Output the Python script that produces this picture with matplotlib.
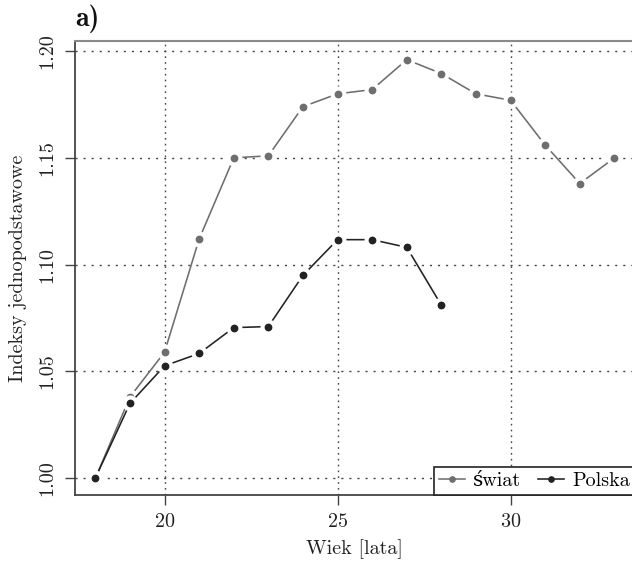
import matplotlib
matplotlib.use("Agg")
import matplotlib.pyplot as plt
from matplotlib.lines import Line2D

plt.rcParams['axes.formatter.use_mathtext'] = True
plt.rcParams['font.family'] = ['cmr10', 'DejaVu Serif']

wiek = [18, 19, 20, 21, 22, 23, 24, 25, 26, 27, 28, 29, 30, 31, 32, 33]
swiat = [1.000, 1.038, 1.059, 1.112, 1.150, 1.151, 1.174, 1.180, 1.182, 1.196,
         1.1895, 1.180, 1.177, 1.156, 1.138, 1.150]
wiek_pl = [18, 19, 20, 21, 22, 23, 24, 25, 26, 27, 28]
polska = [1.000, 1.035, 1.0526, 1.0584, 1.0705, 1.071, 1.095, 1.1117, 1.1117, 1.1081, 1.081]

xticks = [20, 25, 30]
yticks = [1.00, 1.05, 1.10, 1.15, 1.20]
ytick_labels = ["1.00", "1.05", "1.10", "1.15", "1.20"]

fig = plt.figure(figsize=(6.32, 5.62), dpi=100)
ax = fig.add_axes([0.118, 0.1192, 1.005 - 0.118, 0.9276 - 0.1192])

col_sw = '#6e6e6e'
col_pl = '#222222'

for xs, ys, c, z in [(wiek, swiat, col_sw, 3), (wiek_pl, polska, col_pl, 5)]:
    ax.plot(xs, ys, color=c, lw=1.15, zorder=z, solid_capstyle='butt')
    ax.plot(xs, ys, ls='none', marker='o', ms=11.5, mfc='white', mec='none', zorder=z + 0.5)
    ax.plot(xs, ys, ls='none', marker='o', ms=4.6, mfc=c, mec=c, zorder=z + 0.6)

ax.set_xlim(17.4, 33.6)
ax.set_ylim(0.9921, 1.2049)
ax.set_xticks(xticks)
ax.set_yticks(yticks)
ax.set_yticklabels(ytick_labels, rotation=90, va='center')
ax.tick_params(axis='both', direction='out', length=7, width=1, color='#444444',
               labelsize=14.5, colors='#222222', pad=6)

for v in xticks:
    ax.axvline(v, color='#444444', lw=1, ls=(0, (1.2, 3.0)), zorder=1)
for v in yticks:
    ax.axhline(v, color='#444444', lw=1, ls=(0, (1.5, 4.3)), zorder=1)

for s in ['left', 'bottom', 'right']:
    ax.spines[s].set_color('#444444')
    ax.spines[s].set_linewidth(1.3)
ax.spines['top'].set_color('#8a8a8a')
ax.spines['top'].set_linewidth(1.5)

ax.set_xlabel('Wiek [lata]', fontsize=14.5, color='#222222', labelpad=6)
ax.set_ylabel('Indeksy jednopodstawowe', fontsize=14.5, color='#222222', labelpad=8)

fig.text(0.119, 0.942, 'a)', fontsize=20, fontweight='bold', family=['cmb10', 'DejaVu Serif'],
         color='#111111', va='bottom', ha='left')

handles = [Line2D([], [], color=col_sw, lw=1.15, marker='o', ms=3.8, mfc=col_sw, mec=col_sw),
           Line2D([], [], color=col_pl, lw=1.15, marker='o', ms=3.8, mfc=col_pl, mec=col_pl)]
leg = ax.legend(handles, ['świat', 'Polska'], loc='lower right', ncol=2, fontsize=14.5,
                frameon=True, fancybox=False, framealpha=1, edgecolor='#222222',
                borderaxespad=0, handlelength=1.3, handletextpad=0.4, columnspacing=0.85,
                borderpad=0.25)
leg.get_frame().set_linewidth(1.2)
leg.set_zorder(10)

fig.savefig('out.png', dpi=100)
